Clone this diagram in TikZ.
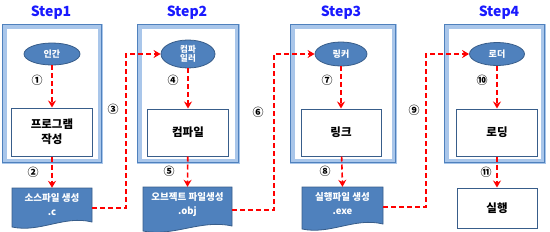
\documentclass[tikz,border=0pt]{standalone}
\usepackage{fontspec}
\setmainfont{Noto Sans CJK KR}
\usetikzlibrary{arrows.meta,calc,shapes.geometric}
\definecolor{obl}{HTML}{4F81BD}
\definecolor{obd}{HTML}{385D8A}
\definecolor{glow}{HTML}{A9C6EA}
\definecolor{ttl}{HTML}{1A1AFF}
\tikzset{
  stepframe/.style={draw=glow,line width=5pt},
  stepline/.style={draw=obl,line width=1.2pt},
  ell/.style={ellipse,fill=obl,draw=obd,line width=0.8pt,text=white,font=\bfseries\fontsize{9}{10}\selectfont,inner sep=0pt,align=center},
  wbox/.style={rectangle,fill=white,draw=obd,line width=1pt,font=\bfseries\fontsize{11.5}{15}\selectfont,align=center,inner sep=0pt},
  docnode/.style={rectangle,inner sep=0pt,text=white,font=\bfseries\fontsize{9.5}{14}\selectfont,align=center},
  docshape/.style={fill=obl,draw=obd,line width=0.8pt},
  num/.style={font=\bfseries\fontsize{11}{11}\selectfont,inner sep=0pt},
  ttlst/.style={text=ttl,font=\bfseries\fontsize{14}{14}\selectfont},
  rda/.style={draw=red,line width=1.6pt,dash pattern=on 5pt off 3pt,-{Stealth[length=7pt,width=8pt]}},
}
\newcommand{\mydoc}[4]{% x1, x2, ytop, ybottom-left
  \fill[docshape] (#1,#3) -- (#2,#3) -- (#2,#4-5) .. controls ({#2-0.35*(#2-#1)},#4-12) and ({#1+0.35*(#2-#1)},#4+6) .. (#1,#4) -- cycle;
}
\begin{document}
\begin{tikzpicture}[x=1pt,y=-1pt]
\useasboundingbox (0,0) rectangle (550,231);
% step frames
\foreach \a/\b in {4/100,139/237,292/394,446/543}{
  \draw[stepframe] (\a,26) rectangle (\b,161);
  \draw[stepline] (\a-1.5,24.5) rectangle (\b+1.5,162.5);
}
% titles
\node[ttlst] (t1) at (51,13) {Step1};
\node[ttlst] (t2) at (187,13) {Step2};
\node[ttlst] (t3) at (341,13) {Step3};
\node[ttlst] (t4) at (499,13) {Step4};
% ellipses
\node[ell,minimum width=56pt,minimum height=22pt] (e1) at (52,54) {인간};
\node[ell,minimum width=54pt,minimum height=28pt,font=\bfseries\fontsize{8.5}{9}\selectfont] (e2) at (188,54) {컴파\\일러};
\node[ell,minimum width=52pt,minimum height=24pt] (e3) at (341,54) {링커};
\node[ell,minimum width=55pt,minimum height=23pt] (e4) at (497,54) {로더};
% boxes
\node[wbox,minimum width=81pt,minimum height=48pt] (b1) at (52,132) {프로그램\\작성};
\node[wbox,minimum width=81pt,minimum height=47pt] (b2) at (188,132.5) {컴파일};
\node[wbox,minimum width=80pt,minimum height=47pt] (b3) at (341,132.5) {링크};
\node[wbox,minimum width=81pt,minimum height=47pt] (b4) at (497,132.5) {로딩};
\node[wbox,minimum width=80pt,minimum height=40pt] (b5) at (497,208) {실행};
% documents
\mydoc{12}{92}{188}{227}
\mydoc{143}{232}{187}{231}
\mydoc{302}{383}{187}{229}
\node[docnode,minimum width=80pt,minimum height=34pt] (d1) at (52,205) {소스파일 생성\\.c};
\node[docnode,minimum width=89pt,minimum height=36pt] (d2) at (187.5,205) {오브젝트 파일생성\\.obj};
\node[docnode,minimum width=81pt,minimum height=34pt] (d3) at (342.5,204) {실행파일 생성\\.exe};
% arrows
\draw[rda] (e1) -- (b1);
\draw[rda] (b1) -- (d1.north);
\draw[rda] (e2) -- (b2);
\draw[rda] (b2) -- (d2.north);
\draw[rda] (e3) -- (b3);
\draw[rda] (b3) -- (d3.north);
\draw[rda] (e4) -- (b4);
\draw[rda] (b4) -- (b5);
\coordinate (c1) at (126,208);
\coordinate (c2) at (274,210);
\coordinate (c3) at (426,207);
\draw[rda] (d1.east |- c1) -- (c1) |- (e2.west);
\draw[rda] (d2.east |- c2) -- (c2) |- (e3.west);
\draw[rda] (d3.east |- c3) -- (c3) |- (e4.west);
% numbers
\node[num] (n1) at (37,80) {①};
\node[num] (n2) at (33,172) {②};
\node[num] (n3) at (113,109) {③};
\node[num] (n4) at (173,80) {④};
\node[num] (n5) at (169,171) {⑤};
\node[num] (n6) at (258,112) {⑥};
\node[num] (n7) at (327,80) {⑦};
\node[num] (n8) at (325,171) {⑧};
\node[num] (n9) at (414,110) {⑨};
\node[num] (n10) at (482,80) {⑩};
\node[num] (n11) at (486,172) {⑪};
\end{tikzpicture}
\end{document}
